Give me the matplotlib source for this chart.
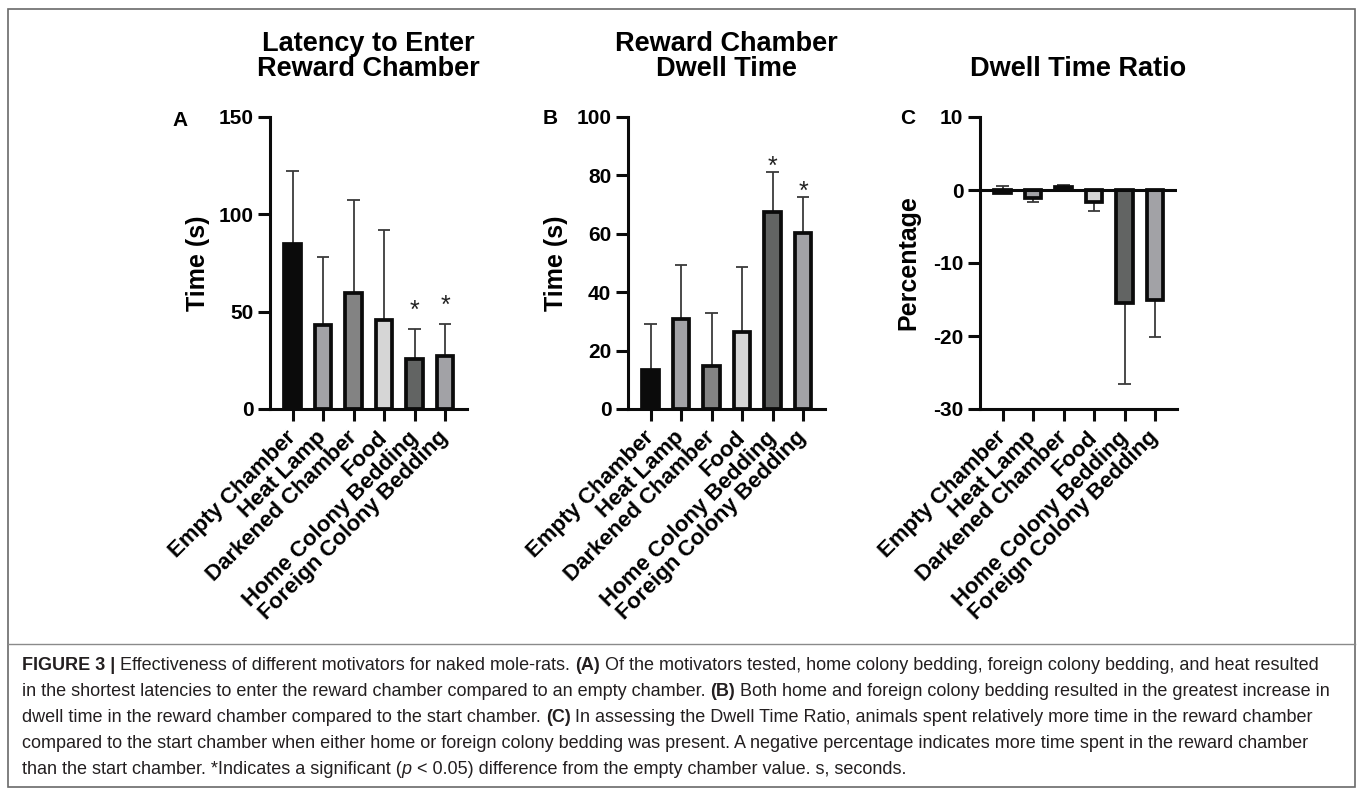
import numpy as np
import matplotlib
matplotlib.use("Agg")
import matplotlib.pyplot as plt
from matplotlib.patches import Rectangle
from matplotlib.lines import Line2D

plt.rcParams['font.family'] = ['Liberation Sans', 'DejaVu Sans']

categories = ['Empty Chamber', 'Heat Lamp', 'Darkened Chamber', 'Food',
              'Home Colony Bedding', 'Foreign Colony Bedding']
bar_colors = ['#0b0b0b', '#a2a2a6', '#838383', '#d6d6d6', '#626463', '#a2a2a6']

# A: latency to enter reward chamber (s), mean and top of error bar
latency_mean = [85, 43, 59.5, 45.7, 25.5, 27]
latency_tip = [122.5, 78.3, 107.4, 92, 41.2, 43.8]
latency_sig = [False, False, False, False, True, True]

# B: reward chamber dwell time (s)
dwell_mean = [13.2, 30.7, 14.8, 26.4, 67.5, 60.3]
dwell_tip = [29.1, 49.4, 32.9, 48.6, 81, 72.6]
dwell_sig = [False, False, False, False, True, True]

# C: dwell time ratio (%)
ratio_mean = [-0.4, -1.1, 0.4, -1.6, -15.5, -15.1]
ratio_tip = [0.5, -1.7, 0.7, -2.9, -26.6, -20.2]
ratio_sig = [False] * 6

W, H = 1357, 789
fig = plt.figure(figsize=(W / 100, H / 100), dpi=100)


def px(x, y):
    return x / W, 1 - y / H


def panel(left, means, tips, sig, ylim, yticks, ylabel, star_off, zero_line=False):
    ax = fig.add_axes([left / W, 1 - 409 / H, 197 / W, 292 / H])
    x = np.arange(len(categories))
    ax.vlines(x, means, tips, color='#3a3a3a', lw=1.3, zorder=1)
    ax.hlines(tips, x - 0.21, x + 0.21, color='#3a3a3a', lw=1.3, zorder=1)
    ax.bar(x, means, width=0.54, color=bar_colors, edgecolor='#0b0b0b',
           linewidth=2.7, zorder=2)
    for xi, t, s in zip(x, tips, sig):
        if s:
            ax.annotate('*', (xi, t), xytext=(0, star_off), textcoords='offset points',
                        ha='center', va='baseline', fontsize=18, color='#222222')
    if zero_line:
        ax.axhline(0, color='#0b0b0b', lw=2.2, zorder=3)
    ax.set_xlim(-0.74, 5.72)
    ax.set_ylim(*ylim)
    ax.set_yticks(yticks)
    ax.set_yticklabels([str(v) for v in yticks], fontsize=15, fontweight='bold')
    ax.set_xticks(x)
    ax.set_xticklabels(categories, rotation=45, ha='right', va='center',
                       rotation_mode='anchor', fontsize=16, fontweight='bold')
    ax.tick_params(direction='out', length=8.5, width=2.2, color='#0b0b0b')
    ax.tick_params(axis='x', pad=10)
    for side in ['top', 'right']:
        ax.spines[side].set_visible(False)
    for side in ['left', 'bottom']:
        ax.spines[side].set_linewidth(2.2)
        ax.spines[side].set_color('#0b0b0b')
    ax.set_ylabel(ylabel, fontsize=18, fontweight='bold')
    ax.yaxis.set_label_coords(-0.305, 0.5)
    return ax


axA = panel(270, latency_mean, latency_tip, latency_sig, (0, 150), [0, 50, 100, 150],
            'Time (s)', 8)
axB = panel(628, dwell_mean, dwell_tip, dwell_sig, (0, 100), [0, 20, 40, 60, 80, 100],
            'Time (s)', -1)
axC = panel(980, ratio_mean, ratio_tip, ratio_sig, (-30, 10), [-30, -20, -10, 0, 10],
            'Percentage', 0, zero_line=True)

titles = ['Latency to Enter\nReward Chamber', 'Reward Chamber\nDwell Time', 'Dwell Time Ratio']
for left, t in zip([270, 628, 980], titles):
    fig.text(*px(left + 98.5, 82), t, ha='center', va='bottom', fontsize=19.5,
             fontweight='bold', linespacing=0.95)

for (lx, ly), letter in zip([(180, 120), (550, 119), (908, 119)], ['A', 'B', 'C']):
    fig.text(*px(lx, ly), letter, ha='center', va='center', fontsize=15, fontweight='bold')

# outer frame and caption separator
fig.add_artist(Rectangle(px(8, 787), 1347 / W, 778 / H, transform=fig.transFigure,
                         fill=False, edgecolor='#6a6a6a', lw=1.2))
fig.add_artist(Line2D([8 / W, 1355 / W], [1 - 644 / H] * 2, transform=fig.transFigure,
                      color='#8a8a8a', lw=1.0))

# caption with mixed bold / italic runs
caption = [
    [("FIGURE 3 | ", 'bold', 'normal'),
     ("Effectiveness of different motivators for naked mole-rats. ", 'normal', 'normal'),
     ("(A)", 'bold', 'normal'),
     (" Of the motivators tested, home colony bedding, foreign colony bedding, and heat resulted", 'normal', 'normal')],
    [("in the shortest latencies to enter the reward chamber compared to an empty chamber. ", 'normal', 'normal'),
     ("(B)", 'bold', 'normal'),
     (" Both home and foreign colony bedding resulted in the greatest increase in", 'normal', 'normal')],
    [("dwell time in the reward chamber compared to the start chamber. ", 'normal', 'normal'),
     ("(C)", 'bold', 'normal'),
     (" In assessing the Dwell Time Ratio, animals spent relatively more time in the reward chamber", 'normal', 'normal')],
    [("compared to the start chamber when either home or foreign colony bedding was present. "
      "A negative percentage indicates more time spent in the reward chamber", 'normal', 'normal')],
    [("than the start chamber. *Indicates a significant (", 'normal', 'normal'),
     ("p", 'normal', 'italic'),
     (" < 0.05) difference from the empty chamber value. s, seconds.", 'normal', 'normal')],
]
cap_size = 13
renderer = fig.canvas.get_renderer()


def advance(s, weight, style):
    t1 = fig.text(0, 0, s + '|', fontsize=cap_size, fontweight=weight, fontstyle=style)
    t2 = fig.text(0, 0, '|', fontsize=cap_size, fontweight=weight, fontstyle=style)
    w = t1.get_window_extent(renderer).width - t2.get_window_extent(renderer).width
    t1.remove()
    t2.remove()
    return w


for i, parts in enumerate(caption):
    xpix = 22
    ypix = 670 + 26 * i
    for s, weight, style in parts:
        fig.text(*px(xpix, ypix), s, ha='left', va='baseline', fontsize=cap_size,
                 fontweight=weight, fontstyle=style, color='#231f20')
        xpix += advance(s, weight, style)

fig.savefig('out.png', dpi=100)
